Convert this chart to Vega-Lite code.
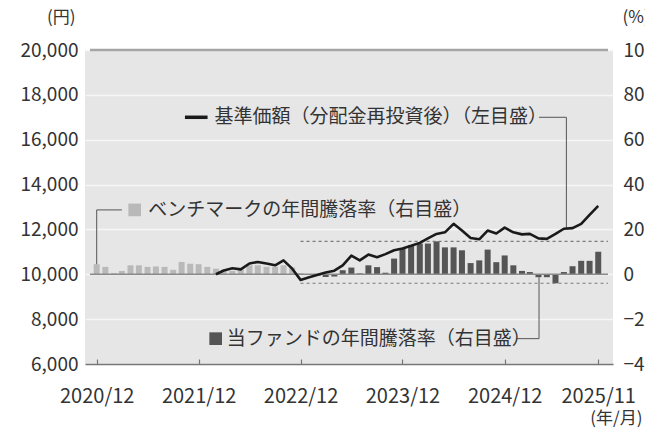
{
  "$schema": "https://vega.github.io/schema/vega-lite/v6.json",
  "width": 528,
  "height": 314,
  "autosize": {"type": "none"},
  "padding": {"left": 85, "top": 50, "right": 32, "bottom": 65},
  "background": "white",
  "config": {
    "font": "Noto Sans CJK JP",
    "view": {"fill": "#e6e6e6", "stroke": null},
    "axis": {"labelFont": "Noto Sans CJK JP", "titleFont": "Noto Sans CJK JP", "labelColor": "#333333", "titleColor": "#333333", "labelFontSize": 19, "titleFontSize": 17, "titleFontWeight": "normal"}
  },
  "datasets": {
    "nav": [
      {"date": "2022-02-01", "yen": 10000}, {"date": "2022-03-01", "yen": 10170}, {"date": "2022-04-01", "yen": 10270},
      {"date": "2022-05-01", "yen": 10220}, {"date": "2022-06-01", "yen": 10480}, {"date": "2022-07-01", "yen": 10550},
      {"date": "2022-08-01", "yen": 10480}, {"date": "2022-09-01", "yen": 10400}, {"date": "2022-10-01", "yen": 10620},
      {"date": "2022-11-01", "yen": 10250}, {"date": "2022-12-01", "yen": 9750}, {"date": "2023-01-01", "yen": 9870},
      {"date": "2023-02-01", "yen": 9980}, {"date": "2023-03-01", "yen": 10080}, {"date": "2023-04-01", "yen": 10160},
      {"date": "2023-05-01", "yen": 10400}, {"date": "2023-06-01", "yen": 10830}, {"date": "2023-07-01", "yen": 10620},
      {"date": "2023-08-01", "yen": 10880}, {"date": "2023-09-01", "yen": 10760}, {"date": "2023-10-01", "yen": 10900},
      {"date": "2023-11-01", "yen": 11070}, {"date": "2023-12-01", "yen": 11150}, {"date": "2024-01-01", "yen": 11270},
      {"date": "2024-02-01", "yen": 11400}, {"date": "2024-03-01", "yen": 11600}, {"date": "2024-04-01", "yen": 11800},
      {"date": "2024-05-01", "yen": 11870}, {"date": "2024-06-01", "yen": 12250}, {"date": "2024-07-01", "yen": 11950},
      {"date": "2024-08-01", "yen": 11620}, {"date": "2024-09-01", "yen": 11560}, {"date": "2024-10-01", "yen": 11950},
      {"date": "2024-11-01", "yen": 11820}, {"date": "2024-12-01", "yen": 12080}, {"date": "2025-01-01", "yen": 11870},
      {"date": "2025-02-01", "yen": 11780}, {"date": "2025-03-01", "yen": 11800}, {"date": "2025-04-01", "yen": 11600},
      {"date": "2025-05-01", "yen": 11580}, {"date": "2025-06-01", "yen": 11800}, {"date": "2025-07-01", "yen": 12030},
      {"date": "2025-08-01", "yen": 12060}, {"date": "2025-09-01", "yen": 12250}, {"date": "2025-10-01", "yen": 12650},
      {"date": "2025-11-01", "yen": 13050}
    ],
    "bars": [
      {"date": "2020-12-01", "pct": 4.5, "series": "bench"}, {"date": "2021-01-01", "pct": 3.3, "series": "bench"},
      {"date": "2021-02-01", "pct": 0.5, "series": "bench"}, {"date": "2021-03-01", "pct": 1.5, "series": "bench"},
      {"date": "2021-04-01", "pct": 4.0, "series": "bench"}, {"date": "2021-05-01", "pct": 4.0, "series": "bench"},
      {"date": "2021-06-01", "pct": 3.3, "series": "bench"}, {"date": "2021-07-01", "pct": 3.5, "series": "bench"},
      {"date": "2021-08-01", "pct": 3.3, "series": "bench"}, {"date": "2021-09-01", "pct": 2.0, "series": "bench"},
      {"date": "2021-10-01", "pct": 5.5, "series": "bench"}, {"date": "2021-11-01", "pct": 4.7, "series": "bench"},
      {"date": "2021-12-01", "pct": 4.5, "series": "bench"}, {"date": "2022-01-01", "pct": 3.3, "series": "bench"},
      {"date": "2022-02-01", "pct": 2.5, "series": "bench"}, {"date": "2022-03-01", "pct": 1.5, "series": "bench"},
      {"date": "2022-04-01", "pct": 1.5, "series": "bench"}, {"date": "2022-05-01", "pct": 2.0, "series": "bench"},
      {"date": "2022-06-01", "pct": 4.0, "series": "bench"}, {"date": "2022-07-01", "pct": 4.0, "series": "bench"},
      {"date": "2022-08-01", "pct": 3.3, "series": "bench"}, {"date": "2022-09-01", "pct": 3.3, "series": "bench"},
      {"date": "2022-10-01", "pct": 4.0, "series": "bench"}, {"date": "2022-11-01", "pct": 3.0, "series": "bench"},
      {"date": "2022-12-01", "pct": 0.5, "series": "bench"}, {"date": "2023-01-01", "pct": -0.3, "series": "bench"},
      {"date": "2023-02-01", "pct": -0.5, "series": "fund"}, {"date": "2023-03-01", "pct": -1.2, "series": "fund"},
      {"date": "2023-04-01", "pct": -1.0, "series": "fund"}, {"date": "2023-05-01", "pct": 1.8, "series": "fund"},
      {"date": "2023-06-01", "pct": 3.0, "series": "fund"}, {"date": "2023-07-01", "pct": 0.4, "series": "fund"},
      {"date": "2023-08-01", "pct": 4.0, "series": "fund"}, {"date": "2023-09-01", "pct": 3.2, "series": "fund"},
      {"date": "2023-10-01", "pct": 0.7, "series": "fund"}, {"date": "2023-11-01", "pct": 7.0, "series": "fund"},
      {"date": "2023-12-01", "pct": 11.5, "series": "fund"}, {"date": "2024-01-01", "pct": 13.0, "series": "fund"},
      {"date": "2024-02-01", "pct": 13.7, "series": "fund"}, {"date": "2024-03-01", "pct": 13.7, "series": "fund"},
      {"date": "2024-04-01", "pct": 14.7, "series": "fund"}, {"date": "2024-05-01", "pct": 12.0, "series": "fund"},
      {"date": "2024-06-01", "pct": 12.0, "series": "fund"}, {"date": "2024-07-01", "pct": 10.7, "series": "fund"},
      {"date": "2024-08-01", "pct": 5.0, "series": "fund"}, {"date": "2024-09-01", "pct": 6.2, "series": "fund"},
      {"date": "2024-10-01", "pct": 11.0, "series": "fund"}, {"date": "2024-11-01", "pct": 5.4, "series": "fund"},
      {"date": "2024-12-01", "pct": 8.4, "series": "fund"}, {"date": "2025-01-01", "pct": 4.0, "series": "fund"},
      {"date": "2025-02-01", "pct": 1.5, "series": "fund"}, {"date": "2025-03-01", "pct": 1.0, "series": "fund"},
      {"date": "2025-04-01", "pct": -1.3, "series": "fund"}, {"date": "2025-05-01", "pct": -1.3, "series": "fund"},
      {"date": "2025-06-01", "pct": -4.0, "series": "fund"}, {"date": "2025-07-01", "pct": 1.0, "series": "fund"},
      {"date": "2025-08-01", "pct": 3.6, "series": "fund"}, {"date": "2025-09-01", "pct": 6.0, "series": "fund"},
      {"date": "2025-10-01", "pct": 6.0, "series": "fund"}, {"date": "2025-11-01", "pct": 10.0, "series": "fund"}
    ],
    "baseline": [{"date": "2020-11-07", "date2": "2025-12-06", "pct": 0}],
    "range": [
      {"date": "2022-12-01", "date2": "2025-12-06", "pct": 14.7},
      {"date": "2022-12-01", "date2": "2025-12-06", "pct": -4.0}
    ],
    "topline": [{"date": "2020-11-07", "date2": "2025-12-06", "yen": 20000}],
    "leaders": [
      {"date": "2020-12-01", "date2": "2021-03-01", "yen": 12870, "yen2": 12870},
      {"date": "2020-12-01", "date2": "2020-12-01", "yen": 12870, "yen2": 10450},
      {"date": "2025-04-03", "date2": "2025-07-10", "yen": 17000, "yen2": 17000},
      {"date": "2025-07-10", "date2": "2025-07-10", "yen": 17000, "yen2": 12050},
      {"date": "2025-01-13", "date2": "2025-04-03", "yen": 7130, "yen2": 7130},
      {"date": "2025-04-03", "date2": "2025-04-03", "yen": 7130, "yen2": 9870}
    ],
    "dash": [{"date": "2021-10-13", "date2": "2022-01-02", "yen": 17000}],
    "keys": [
      {"date": "2021-04-16", "yen": 12870, "series": "bench"},
      {"date": "2022-01-31", "yen": 7130, "series": "fund"}
    ],
    "notes": [
      {"date": "2022-01-27", "yen": 17000, "label": "基準価額（分配金再投資後）（左目盛）"},
      {"date": "2021-06-04", "yen": 12870, "label": "ベンチマークの年間騰落率（右目盛）"},
      {"date": "2022-03-12", "yen": 7130, "label": "当ファンドの年間騰落率（右目盛）"}
    ]
  },
  "encoding": {
    "x": {
      "field": "date",
      "type": "temporal",
      "scale": {"type": "utc", "domain": [{"year": 2020, "month": 11, "date": 7, "utc": true}, {"year": 2025, "month": 12, "date": 6, "utc": true}]},
      "axis": {
        "values": [
          {"year": 2020, "month": 12, "date": 1, "utc": true},
          {"year": 2021, "month": 12, "date": 1, "utc": true},
          {"year": 2022, "month": 12, "date": 1, "utc": true},
          {"year": 2023, "month": 12, "date": 1, "utc": true},
          {"year": 2024, "month": 12, "date": 1, "utc": true},
          {"year": 2025, "month": 11, "date": 1, "utc": true}
        ],
        "labelExpr": "utcFormat(datum.value, '%Y/%m')",
        "labelFontSize": 20,
        "grid": false,
        "domainColor": "#777777",
        "domainWidth": 1.5,
        "tickColor": "#777777",
        "tickSize": -5,
        "tickWidth": 1.2,
        "labelPadding": 27,
        "labelFlush": false,
        "labelOverlap": false,
        "title": "(年/月)",
        "titleX": 557,
        "titleY": 54,
        "titleAlign": "right",
        "titleAnchor": "end",
        "titleBaseline": "middle",
        "titleFontSize": 17
      }
    }
  },
  "layer": [
    {
      "encoding": {
        "y": {
          "field": "pct",
          "type": "quantitative",
          "scale": {"domain": [-40, 100], "nice": false, "zero": false},
          "axis": {
            "orient": "right",
            "values": [-40, -20, 0, 20, 40, 60, 80, 100],
            "format": "d",
            "ticks": false,
            "domain": false,
            "grid": false,
            "labelPadding": 10,
            "labelAlign": "left",
            "title": "(%)",
            "titleAngle": 0,
            "titleAlign": "left",
            "titleBaseline": "middle",
            "titleX": 9,
            "titleY": -33
          }
        }
      },
      "layer": [
        {
          "data": {"name": "bars"},
          "mark": {"type": "bar", "size": 6},
          "encoding": {
            "color": {"field": "series", "type": "nominal", "scale": {"domain": ["bench", "fund"], "range": ["#b9b9b9", "#555555"]}, "legend": null}
          }
        },
        {
          "data": {"name": "baseline"},
          "mark": {"type": "rule", "color": "#8a8a8a", "strokeWidth": 1.5},
          "encoding": {"x2": {"field": "date2"}}
        },
        {
          "data": {"name": "range"},
          "mark": {"type": "rule", "color": "#7a7a7a", "strokeWidth": 1.2, "strokeDash": [3, 3]},
          "encoding": {"x2": {"field": "date2"}}
        }
      ]
    },
    {
      "encoding": {
        "y": {
          "field": "yen",
          "type": "quantitative",
          "scale": {"domain": [6000, 20000], "nice": false, "zero": false},
          "axis": {
            "orient": "left",
            "values": [6000, 8000, 10000, 12000, 14000, 16000, 18000, 20000],
            "format": ",d",
            "ticks": false,
            "domain": false,
            "grid": true,
            "gridColor": "#f6f6f6",
            "gridWidth": 1.5,
            "labelPadding": 7,
            "title": "(円)",
            "titleAngle": 0,
            "titleAlign": "right",
            "titleBaseline": "middle",
            "titleX": -10,
            "titleY": -33
          }
        }
      },
      "layer": [
        {
          "data": {"name": "topline"},
          "mark": {"type": "rule", "color": "#a5a5a5", "strokeWidth": 2.5},
          "encoding": {"x2": {"field": "date2"}}
        },
        {
          "data": {"name": "leaders"},
          "mark": {"type": "rule", "color": "#555555", "strokeWidth": 1},
          "encoding": {"x2": {"field": "date2"}, "y2": {"field": "yen2"}}
        },
        {
          "data": {"name": "nav"},
          "mark": {"type": "line", "color": "#1a1a1a", "strokeWidth": 2.6, "strokeJoin": "round"}
        },
        {
          "data": {"name": "dash"},
          "mark": {"type": "rule", "color": "#1a1a1a", "strokeWidth": 3.5},
          "encoding": {"x2": {"field": "date2"}}
        },
        {
          "data": {"name": "keys"},
          "mark": {"type": "point", "shape": "square", "filled": true, "opacity": 1, "size": 160},
          "encoding": {
            "color": {"field": "series", "type": "nominal", "scale": {"domain": ["bench", "fund"], "range": ["#b9b9b9", "#555555"]}, "legend": null}
          }
        },
        {
          "data": {"name": "notes"},
          "mark": {"type": "text", "align": "left", "baseline": "middle", "fontSize": 19, "color": "#333333", "font": "Noto Sans CJK JP"},
          "encoding": {"text": {"field": "label"}}
        }
      ]
    }
  ],
  "resolve": {"scale": {"y": "independent"}}
}
